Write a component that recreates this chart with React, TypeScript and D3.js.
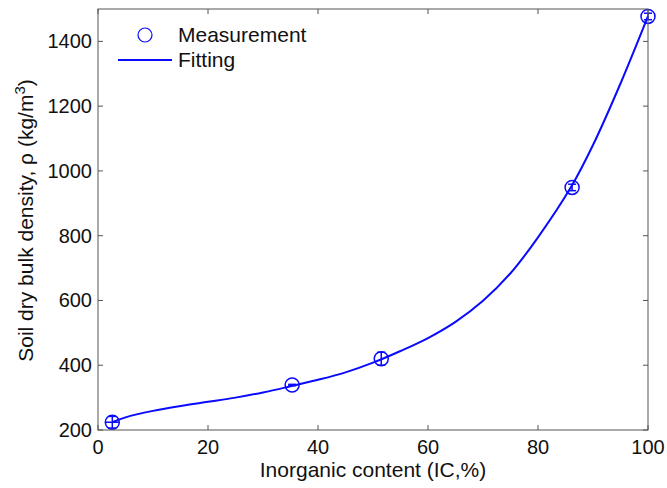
import React from 'react';
import * as d3 from 'd3';

// measured points
const measX = [2.6, 35.3, 51.5, 86.2, 100];
const measY = [224, 339, 420, 949, 1477];
const measErrY = [18, 2, 20, 10, 10];
const measErrX = [1.2, 0, 0, 0, 0];

// fitted curve
const fitX = [2.6, 5, 10, 15, 20, 25, 30, 35, 40, 45, 50, 55, 60, 65, 70, 75, 80, 86, 90, 95, 100];
const fitY = [224, 239, 259, 274, 287, 300, 316, 335, 355, 378, 408, 444, 484, 534, 599, 684, 795, 950, 1080, 1270, 1478];

const xTicks = [0, 20, 40, 60, 80, 100];
const yTicks = [200, 400, 600, 800, 1000, 1200, 1400];

const width = 667;
const height = 488;
const margin = { left: 98, right: 19, top: 9, bottom: 58 };
const font = 'Liberation Sans, Arial, sans-serif';
const blue = '#0a0aff';
const axisColor = '#555';

export default function App() {
  const x = d3.scaleLinear().domain([0, 100]).range([margin.left, width - margin.right]);
  const y = d3.scaleLinear().domain([200, 1500]).range([height - margin.bottom, margin.top]);

  const line = d3
    .line<number>()
    .x((d, i) => x(fitX[i]))
    .y((d) => y(d))
    .curve(d3.curveCatmullRom.alpha(0.5));

  const x0 = x.range()[0];
  const x1 = x.range()[1];
  const y0 = y.range()[0];
  const y1 = y.range()[1];
  const tick = 5;

  return (
    <div style={{ position: 'absolute', left: 0, top: 0 }}>
      <svg width={width} height={height} style={{ display: 'block', background: '#fff' }}>
        <path d={line(fitY) || ''} fill="none" stroke={blue} strokeWidth={2} />

        {measX.map((mx, i) => {
          const cx = x(mx);
          const cy = y(measY[i]);
          const ey = y(measY[i] - measErrY[i]) - cy;
          const ex = measErrX[i] ? x(mx + measErrX[i]) - cx : 0;
          return (
            <g key={i} stroke={blue} strokeWidth={1.5} fill="none">
              <circle cx={cx} cy={cy} r={7} />
              <line x1={cx} x2={cx} y1={cy - ey} y2={cy + ey} />
              <line x1={cx - 4} x2={cx + 4} y1={cy - ey} y2={cy - ey} />
              <line x1={cx - 4} x2={cx + 4} y1={cy + ey} y2={cy + ey} />
              {ex > 0 && <line x1={cx - ex} x2={cx + ex} y1={cy} y2={cy} />}
            </g>
          );
        })}

        {/* axes box */}
        <rect x={x0} y={y1} width={x1 - x0} height={y0 - y1} fill="none" stroke={axisColor} strokeWidth={1} />
        {xTicks.map((t) => (
          <g key={'x' + t}>
            <line x1={x(t)} x2={x(t)} y1={y0} y2={y0 - tick} stroke={axisColor} />
            <line x1={x(t)} x2={x(t)} y1={y1} y2={y1 + tick} stroke={axisColor} />
            <text x={x(t)} y={y0 + 24} textAnchor="middle" fontFamily={font} fontSize={20} fill="#111">
              {t}
            </text>
          </g>
        ))}
        {yTicks.map((t) => (
          <g key={'y' + t}>
            <line x1={x0} x2={x0 + tick} y1={y(t)} y2={y(t)} stroke={axisColor} />
            <line x1={x1} x2={x1 - tick} y1={y(t)} y2={y(t)} stroke={axisColor} />
            <text x={x0 - 6} y={y(t) + 7} textAnchor="end" fontFamily={font} fontSize={20} fill="#111">
              {t}
            </text>
          </g>
        ))}

        <text x={(x0 + x1) / 2} y={477} textAnchor="middle" fontFamily={font} fontSize={21} fill="#111">
          Inorganic content (IC,%)
        </text>
        <text
          transform={`translate(33, ${(y0 + y1) / 2 + 1}) rotate(-90)`}
          textAnchor="middle"
          fontFamily={font}
          fontSize={21}
          fill="#111"
        >
          Soil dry bulk density, ρ (kg/m
          <tspan dy={-8} fontSize={15}>3</tspan>
          <tspan dy={8}>)</tspan>
        </text>

        {/* legend */}
        <circle cx={145} cy={35} r={7} fill="none" stroke={blue} strokeWidth={1.2} />
        <text x={178} y={42} fontFamily={font} fontSize={21} fill="#111">Measurement</text>
        <line x1={118} x2={172} y1={60} y2={60} stroke={blue} strokeWidth={2} />
        <text x={178} y={67} fontFamily={font} fontSize={21} fill="#111">Fitting</text>
      </svg>
    </div>
  );
}
